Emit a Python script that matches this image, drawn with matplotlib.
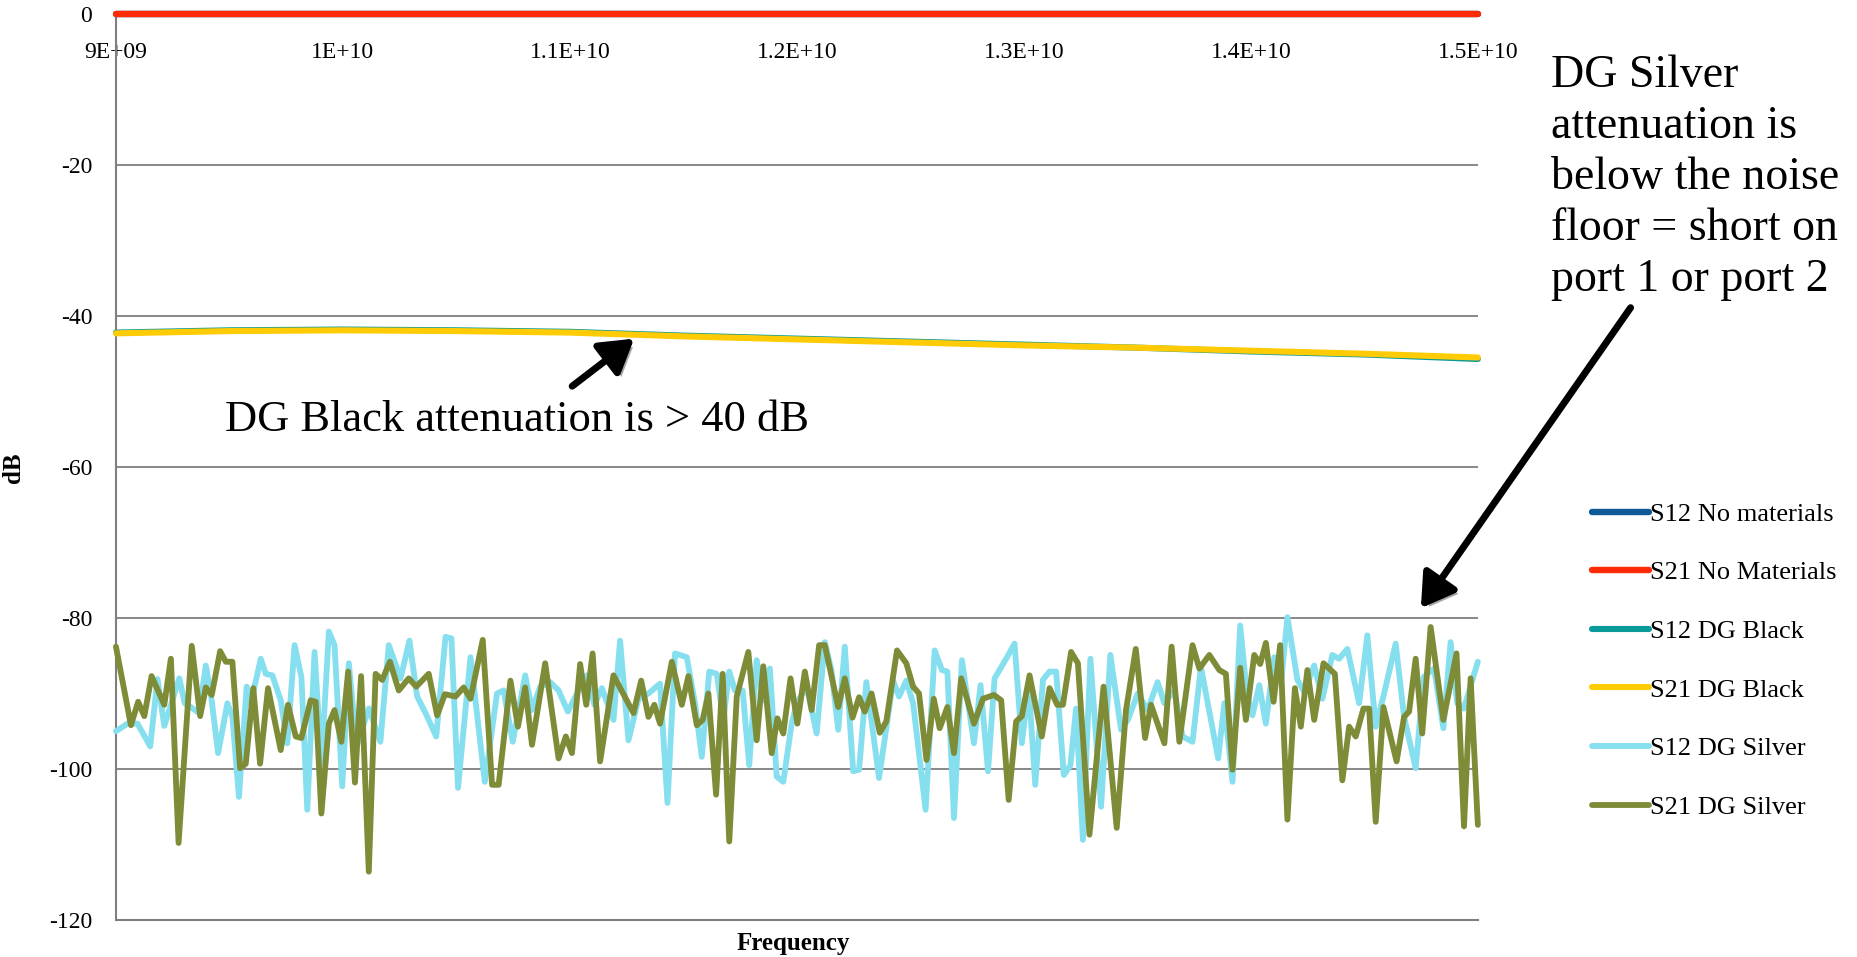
import numpy as np
import matplotlib
matplotlib.use('Agg')
import matplotlib.pyplot as plt
import matplotlib.patheffects as pe

plt.rcParams['font.family'] = ['Liberation Serif', 'DejaVu Serif']

# frequency in GHz, attenuation in dB
freq_nomat = [9.0, 10.0, 11.0, 12.0, 13.0, 14.0, 15.0]
db_s12_nomat = [-0.05, -0.05, -0.05, -0.05, -0.05, -0.05, -0.05]
db_s21_nomat = [0.0, 0.0, 0.0, 0.0, 0.0, 0.0, 0.0]

freq_black = [9.0, 9.5, 10.0, 10.5, 11.0, 11.5, 12.0, 12.5, 13.0, 13.5, 14.0, 14.5, 15.0]
db_s12_black = [-42.2, -41.9, -41.8, -41.9, -42.1, -42.6, -43.0, -43.4, -43.8, -44.2, -44.7, -45.1, -45.7]
db_s21_black = [-42.3, -42.0, -41.9, -42.0, -42.2, -42.7, -43.1, -43.5, -43.9, -44.2, -44.6, -45.0, -45.5]

freq_s12_silver = [
    9.0, 9.051, 9.095, 9.151, 9.183, 9.213, 9.279, 9.303, 9.330, 9.366, 9.396, 9.418, 9.450, 9.491, 9.513,
    9.542, 9.576, 9.594, 9.638, 9.660, 9.689, 9.726, 9.755, 9.787, 9.817, 9.843, 9.875, 9.905, 9.938, 9.963,
    9.997, 10.026, 10.060, 10.114, 10.165, 10.202,
    10.254, 10.293, 10.327, 10.364, 10.411, 10.452, 10.478, 10.507, 10.562, 10.625, 10.679, 10.708, 10.748, 10.803, 10.833,
    10.869, 10.913, 10.950, 10.991, 11.038, 11.075, 11.108, 11.141, 11.192, 11.221, 11.258, 11.302, 11.346, 11.397,
    11.430, 11.463, 11.515, 11.551, 11.581, 11.614, 11.647, 11.676, 11.702, 11.727, 11.761, 11.790, 11.823, 11.852, 11.881,
    11.911, 11.940, 11.977, 11.999, 12.043, 12.087, 12.123, 12.152, 12.182, 12.211, 12.248, 12.274, 12.306, 12.362, 12.424,
    12.450, 12.482, 12.512, 12.567, 12.607,
    12.639, 12.663, 12.692, 12.727, 12.780, 12.809, 12.842, 12.871, 12.922, 12.959, 12.991, 13.021, 13.050, 13.084, 13.113,
    13.142, 13.176, 13.205, 13.230, 13.260, 13.293, 13.340, 13.381, 13.428, 13.458, 13.502, 13.545, 13.589, 13.619, 13.663,
    13.699, 13.743, 13.780,
    13.856, 13.883, 13.919, 13.953, 13.982, 14.007, 14.037, 14.066, 14.103, 14.135, 14.161, 14.205, 14.235, 14.279, 14.315,
    14.359, 14.389, 14.425, 14.477, 14.513, 14.550, 14.587, 14.638, 14.675, 14.726, 14.762, 14.807, 14.848, 14.880, 14.909,
    14.938, 15.0]
db_s12_silver = [
    -95.0, -94.0, -94.0, -97.0, -88.1, -94.3, -88.0, -91.3, -91.8, -92.6, -86.3, -90.0, -97.9, -91.3, -93.1,
    -103.7, -89.1, -91.3, -85.4, -87.4, -87.6, -90.9, -96.6, -83.6, -87.8, -105.4, -84.5, -99.3, -81.8, -83.6,
    -102.3, -86.0, -97.0, -92.0, -96.4, -83.6,
    -88.0, -83.0, -90.4, -92.6, -95.7, -82.5, -82.7, -102.5, -85.2, -101.7, -90.0, -89.6, -96.4, -87.6, -92.2,
    -89.1, -88.5, -89.6, -92.4, -89.6, -87.6, -91.5, -89.3, -93.5, -83.0, -96.2, -90.7, -90.0, -88.7,
    -104.5, -84.7, -85.2, -91.3, -98.4, -87.1, -87.4, -93.5, -87.1, -89.6, -89.6, -99.5, -85.6, -90.9, -86.7,
    -101.0, -101.7, -94.0, -91.3, -89.1, -95.3, -83.2, -86.9, -94.8, -83.8, -100.3, -100.1, -88.5, -101.2, -88.3,
    -90.4, -88.3, -91.3, -105.4, -84.3,
    -86.9, -87.1, -106.5, -85.6, -96.6, -88.9, -100.3, -88.0, -85.4, -83.4, -96.6, -88.9, -102.1, -88.2, -87.1,
    -87.1, -100.8, -99.5, -92.0, -109.4, -85.4, -105.0, -84.9, -94.8, -93.5, -90.0, -92.2, -88.5, -91.3, -89.6,
    -95.7, -96.4, -86.5,
    -98.6, -91.3, -101.7, -81.0, -90.0, -92.9, -88.9, -94.0, -85.2, -88.0, -79.9, -88.2, -89.8, -86.3, -90.7,
    -84.9, -85.4, -84.1, -91.3, -82.3, -94.4, -90.0, -83.4, -93.1, -99.9, -87.8, -86.7, -94.6, -83.2, -91.3,
    -92.0, -85.8]

freq_s21_silver = [
    9.0, 9.066, 9.098, 9.125, 9.157, 9.213, 9.242, 9.276, 9.334, 9.371, 9.396, 9.422, 9.459, 9.484, 9.513,
    9.547, 9.572, 9.605, 9.635, 9.670, 9.726, 9.758, 9.792, 9.817, 9.858, 9.880, 9.905, 9.938, 9.963, 9.993,
    10.023, 10.053, 10.080, 10.114, 10.144, 10.173, 10.207,
    10.246, 10.290, 10.323, 10.378, 10.415, 10.449, 10.496, 10.532, 10.562, 10.616, 10.657, 10.686, 10.738, 10.771, 10.803,
    10.833, 10.891, 10.950, 10.982, 11.009, 11.045, 11.072, 11.100, 11.133, 11.192, 11.280, 11.314, 11.346, 11.372, 11.397,
    11.449, 11.493, 11.522, 11.559, 11.585, 11.610, 11.644, 11.673, 11.702, 11.735, 11.786, 11.823, 11.852, 11.889, 11.914,
    11.940, 11.972, 12.002, 12.035, 12.065, 12.098, 12.123, 12.182, 12.211, 12.245, 12.274, 12.299, 12.329, 12.365, 12.394,
    12.441, 12.482, 12.512, 12.538, 12.571, 12.603,
    12.629, 12.663, 12.692, 12.724, 12.780, 12.820, 12.868, 12.900, 12.933, 12.966, 12.991, 13.025, 13.079, 13.113, 13.147,
    13.172, 13.208, 13.238, 13.289, 13.351, 13.409, 13.450, 13.493, 13.534, 13.560, 13.619, 13.651, 13.685, 13.743, 13.773,
    13.817,
    13.861, 13.890, 13.919, 13.953, 13.978, 14.015, 14.041, 14.066, 14.100, 14.129, 14.161, 14.194, 14.220, 14.249, 14.279,
    14.320, 14.370, 14.403, 14.433, 14.462, 14.496, 14.521, 14.550, 14.584, 14.642, 14.675, 14.697, 14.726, 14.755, 14.792,
    14.848, 14.906, 14.939, 14.968, 15.0]
db_s21_silver = [
    -83.8, -94.2, -91.1, -93.0, -87.7, -91.5, -85.4, -109.8, -83.7, -93.0, -89.2, -90.2, -84.4, -85.8, -85.8,
    -99.9, -99.3, -89.3, -99.3, -89.3, -97.5, -91.5, -95.7, -95.9, -90.9, -91.1, -105.9, -94.0, -92.2, -96.4,
    -87.1, -101.8, -87.7, -113.6, -87.4, -88.2, -85.8,
    -89.6, -88.0, -89.1, -87.4, -92.9, -90.1, -90.4, -89.2, -90.7, -82.9, -102.1, -102.1, -88.3, -94.4, -89.2,
    -96.8, -86.0, -98.6, -95.7, -97.9, -86.1, -91.5, -84.7, -99.0, -87.6, -92.6, -88.3, -93.1, -91.5, -94.0,
    -85.8, -91.5, -87.7, -94.2, -93.5, -90.0, -103.4, -87.4, -109.6, -90.4, -84.5, -96.2, -86.4, -97.9, -93.3,
    -95.3, -88.0, -94.0, -87.1, -92.2, -83.6, -83.6, -91.8, -88.0, -93.2, -90.5, -92.4, -90.0, -95.2, -93.7,
    -84.3, -86.0, -89.1, -90.0, -98.8, -90.7,
    -94.6, -91.8, -97.9, -88.0, -94.0, -90.7, -90.2, -90.9, -104.1, -93.7, -93.0, -87.6, -95.7, -89.3, -91.5,
    -91.5, -84.5, -86.0, -108.7, -89.1, -107.8, -92.2, -84.1, -95.9, -91.5, -96.6, -83.8, -96.4, -83.6, -86.7,
    -84.9,
    -86.9, -87.4, -100.1, -86.6, -93.5, -84.9, -86.1, -83.3, -91.1, -83.6, -106.7, -89.3, -94.4, -86.9, -93.5,
    -86.0, -87.4, -101.5, -94.4, -95.7, -92.0, -92.0, -107.0, -91.8, -99.0, -93.1, -92.4, -85.4, -95.3, -81.2,
    -93.5, -84.7, -107.6, -88.0, -107.4]

x_ticks = [9e9, 1e10, 1.1e10, 1.2e10, 1.3e10, 1.4e10, 1.5e10]
x_ticklabels = ['9E+09', '1E+10', '1.1E+10', '1.2E+10', '1.3E+10', '1.4E+10', '1.5E+10']
y_ticks = [0, -20, -40, -60, -80, -100, -120]

series = [
    ('S12 No materials', freq_nomat, db_s12_nomat, '#0E5A96', 4.6),
    ('S21 No Materials', freq_nomat, db_s21_nomat, '#FF2B06', 4.6),
    ('S12 DG Black', freq_black, db_s12_black, '#0A9A9A', 4.4),
    ('S21 DG Black', freq_black, db_s21_black, '#FFCB05', 4.4),
    ('S12 DG Silver', freq_s12_silver, db_s12_silver, '#86DFEE', 4.2),
    ('S21 DG Silver', freq_s21_silver, db_s21_silver, '#7E8C38', 4.2),
]

fig = plt.figure(figsize=(18.58, 9.57), dpi=100)
ax = fig.add_axes([0.0624, 0.0387, 0.7330, 0.9467])

for label, f, v, color, lw in series:
    ax.plot(np.array(f) * 1e9, v, color=color, lw=lw, label=label, zorder=3,
            solid_joinstyle='round', solid_capstyle='round', clip_on=False)

ax.set_xlim(9e9, 1.5e10)
ax.set_ylim(-120, 0)
ax.set_yticks(y_ticks)
ax.set_yticklabels([str(t) for t in y_ticks], fontsize=17)
ax.set_xticks(x_ticks)
ax.set_xticklabels(x_ticklabels, fontsize=17)
ax.tick_params(axis='x', length=0, top=False, bottom=False, labeltop=True, labelbottom=False, pad=-35)
ax.tick_params(axis='y', length=0, pad=17)
ax.grid(axis='y', color='#7f7f7f', lw=1.3)
ax.grid(axis='x', visible=False)
ax.set_axisbelow(True)
for s in ['left', 'top', 'bottom']:
    ax.spines[s].set_color('#7f7f7f')
    ax.spines[s].set_linewidth(1.5)
ax.spines['right'].set_visible(False)

fig.text(0.0075, 0.511, 'dB', rotation=90, fontsize=18, fontweight='bold', ha='center', va='center')
fig.text(0.427, 0.014, 'Frequency', fontsize=18, fontweight='bold', ha='center', va='center')

leg = ax.legend(loc='upper left', bbox_to_anchor=(0.857, 0.475), bbox_transform=fig.transFigure,
                frameon=False, fontsize=19, handlelength=2.15, handletextpad=0.05,
                labelspacing=1.33, borderpad=0, borderaxespad=0)

shadow = [pe.withSimplePatchShadow(offset=(3, -3), alpha=0.35)]
ax.annotate('', xy=(1.1283e10, -43.0), xytext=(1.101e10, -49.3),
            arrowprops=dict(arrowstyle='-|>,head_length=0.9,head_width=0.55', lw=5, color='black',
                            mutation_scale=22, shrinkA=0, shrinkB=0, path_effects=shadow))
ax.text(9.48e9, -53.8, 'DG Black attenuation is > 40 dB', fontsize=32, ha='left', va='center')

ax.annotate('', xy=(1.4749e10, -78.7), xytext=(1.5673e10, -38.9), annotation_clip=False,
            arrowprops=dict(arrowstyle='-|>,head_length=0.9,head_width=0.55', lw=5, color='black',
                            mutation_scale=22, shrinkA=0, shrinkB=0, path_effects=shadow))
fig.text(0.835, 0.943, 'DG Silver\nattenuation is\nbelow the noise\nfloor = short on\nport 1 or port 2',
         fontsize=33, ha='left', va='top', linespacing=1.26)

fig.savefig('out.png', dpi=100)
